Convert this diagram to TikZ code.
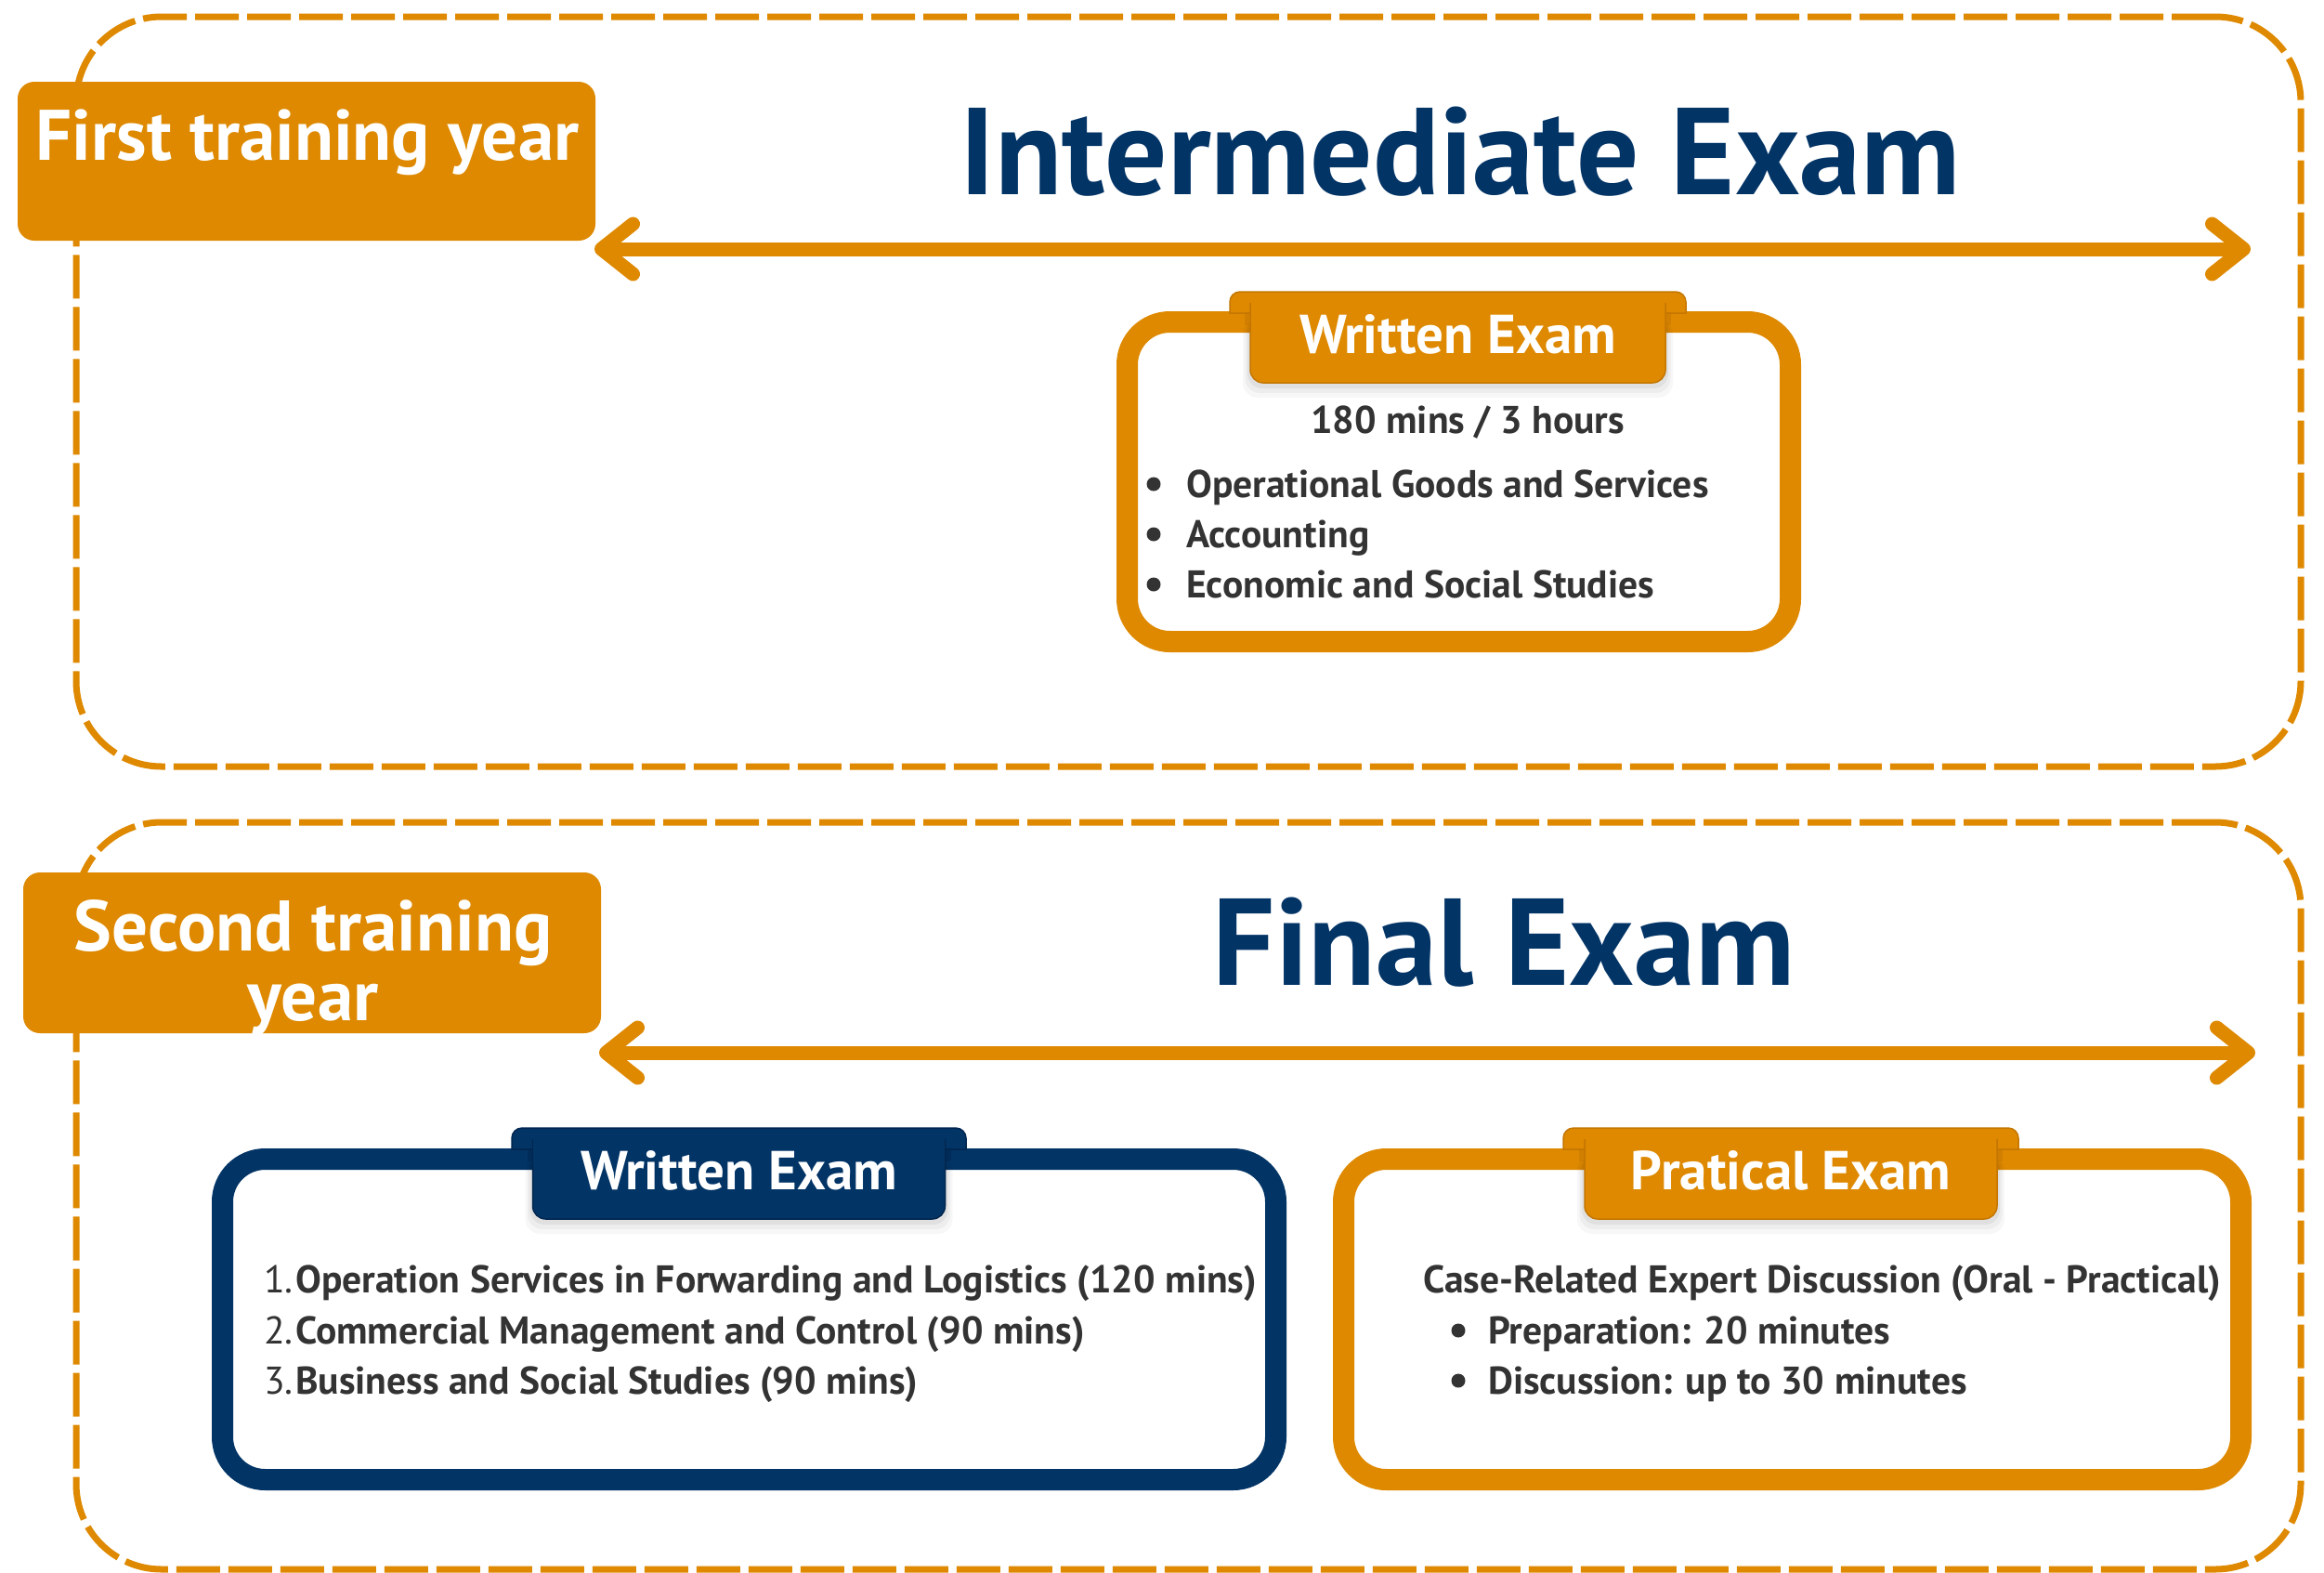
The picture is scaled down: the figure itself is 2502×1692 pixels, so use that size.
\documentclass[tikz,border=0pt]{standalone}
\usepackage{fontspec}
\setmainfont{PT Sans}
\usetikzlibrary{arrows.meta}
\definecolor{orng}{RGB}{222,137,0}
\definecolor{orngdk}{RGB}{196,118,0}
\definecolor{navy}{RGB}{2,52,102}
\definecolor{navydk}{RGB}{1,38,78}
\definecolor{txt}{RGB}{51,51,51}
\tikzset{
 dashbox/.style={draw=orng, line width=7pt, dash pattern=on 47pt off 9pt, rounded corners=92pt, rectangle, inner sep=0pt},
 yearbox/.style={fill=orng, rounded corners=18pt, rectangle, inner sep=0pt},
 yeartext/.style={text=white, font=\bfseries\fontsize{77}{75}\selectfont, align=center, inner sep=0pt},
 bigtitle/.style={text=navy, font=\bfseries\fontsize{133}{136}\selectfont, inner sep=0pt},
 spanarrow/.style={draw=orng, line width=15pt, {Straight Barb[length=34pt,width=54pt,round]}-{Straight Barb[length=34pt,width=54pt,round]}},
 examframe/.style={line width=23pt, rounded corners=46pt, fill=white, rectangle, inner sep=0pt},
 tabtext/.style={text=white, font=\bfseries\fontsize{59}{62}\selectfont, inner sep=0pt},
 bodytext/.style={text=txt, font=\bfseries\fontsize{41.6}{48}\selectfont, inner sep=0pt},
 numtext/.style={text=txt, font=\fontsize{41.6}{48}\selectfont, inner sep=0pt},
 bulletdot/.style={circle, fill=txt, inner sep=0pt, minimum size=15pt},
}
% #1 cx, #2 top, #3 wide half, #4 body half, #5 colour, #6 dark colour, #7 name, #8 text
\newcommand\drawtab[8]{%
  \foreach \s/\o in {16/0.03, 11/0.04, 6/0.05}
    \fill[black, opacity=\o, rounded corners=16pt] (#1-#4-\s/2, #2+30) rectangle (#1+#4+\s/2, #2+98+\s);
  \filldraw[fill=#5, draw=#6, line width=1.5pt] (#1-#3, #2+23) [rounded corners=11pt] -- (#1-#3, #2) -- (#1+#3, #2) [sharp corners] -- (#1+#3, #2+23) -- cycle;
  \fill[#6, opacity=0.5] (#1-#4-6, #2+22) rectangle (#1+#4+6, #2+36);
  \filldraw[fill=#5, draw=#6, line width=1.5pt] (#1-#4, #2+12) [rounded corners=14pt] -- (#1-#4, #2+98) -- (#1+#4, #2+98) [sharp corners] -- (#1+#4, #2+12);
  \fill[#5] (#1-#4+0.75, #2+10) rectangle (#1+#4-0.75, #2+40);
  \node[tabtext, anchor=base] (#7) at (#1, #2+66) {#8};
}
\begin{document}
\begin{tikzpicture}[x=1pt, y=-1pt]
\useasboundingbox[fill=white] (0,0) rectangle (2502,1692);

% ---------------- first year ----------------
\node[dashbox, minimum width=2395pt, minimum height=807pt] (box1) at (1279.5,421.5) {};
\node[yearbox, minimum width=622pt, minimum height=171pt] (yr1) at (330,173.5) {};
\node[yeartext, anchor=base] (yr1t) at (331,172) {First training year};
\node[bigtitle, anchor=base] (t1) at (1572,209) {Intermediate Exam};
\coordinate (a1s) at (640,268);
\coordinate (a1e) at (2423,268);
\draw[spanarrow] (a1s) -- (a1e);

\node[examframe, draw=orng, minimum width=714pt, minimum height=344pt] (wf1) at (1570.5,518.5) {};
\drawtab{1569.5}{314}{245.5}{223.5}{orng}{orngdk}{wt1}{Written Exam}
\node[bodytext, anchor=base] (w1h) at (1580,466) {180 mins / 3 hours};
\node[bulletdot] (w1b1) at (1242,521) {};
\node[bulletdot] (w1b2) at (1242,575) {};
\node[bulletdot] (w1b3) at (1242,629) {};
\node[bodytext, anchor=base west] (w1i1) at (1277,535) {Operational Goods and Services};
\node[bodytext, anchor=base west] (w1i2) at (1277,589) {Accounting};
\node[bodytext, anchor=base west] (w1i3) at (1277,643) {Economic and Social Studies};

% ---------------- second year ----------------
\node[dashbox, minimum width=2395pt, minimum height=804pt] (box2) at (1279.5,1287) {};
\node[yearbox, minimum width=622pt, minimum height=173pt] (yr2) at (336,1025.5) {};
\node[yeartext, anchor=north] (yr2t) at (337,968) {Second training\\year};
\node[bigtitle, anchor=base] (t2) at (1619,1060) {Final Exam};
\coordinate (a2s) at (645,1133);
\coordinate (a2e) at (2428,1133);
\draw[spanarrow] (a2s) -- (a2e);

% written exam (navy)
\node[examframe, draw=navy, minimum width=1134pt, minimum height=345pt] (wf2) at (806.5,1420) {};
\drawtab{795.5}{1214}{244.5}{222}{navy}{navydk}{wt2}{Written Exam}
\node[numtext, anchor=base east] (n1) at (316,1391) {1.};
\node[numtext, anchor=base east] (n2) at (316,1446) {2.};
\node[numtext, anchor=base east] (n3) at (316,1500) {3.};
\node[bodytext, anchor=base west] (w2i1) at (318,1391) {Operation Services in Forwarding and Logistics (120 mins)};
\node[bodytext, anchor=base west] (w2i2) at (318,1446) {Commercial Management and Control (90 mins)};
\node[bodytext, anchor=base west] (w2i3) at (318,1500) {Business and Social Studies (90 mins)};

% practical exam
\node[examframe, draw=orng, minimum width=966pt, minimum height=345pt] (pf) at (1929.5,1420) {};
\drawtab{1928}{1214}{245}{222}{orng}{orngdk}{pt}{Pratical Exam}
\node[bodytext, anchor=base west] (p0) at (1532,1391) {Case-Related Expert Discussion (Oral - Practical)};
\node[bulletdot] (pb1) at (1570,1432) {};
\node[bulletdot] (pb2) at (1570,1486) {};
\node[bodytext, anchor=base west] (p1) at (1602,1446) {Preparation: 20 minutes};
\node[bodytext, anchor=base west] (p2) at (1602,1500) {Discussion: up to 30 minutes};
\end{tikzpicture}
\end{document}
